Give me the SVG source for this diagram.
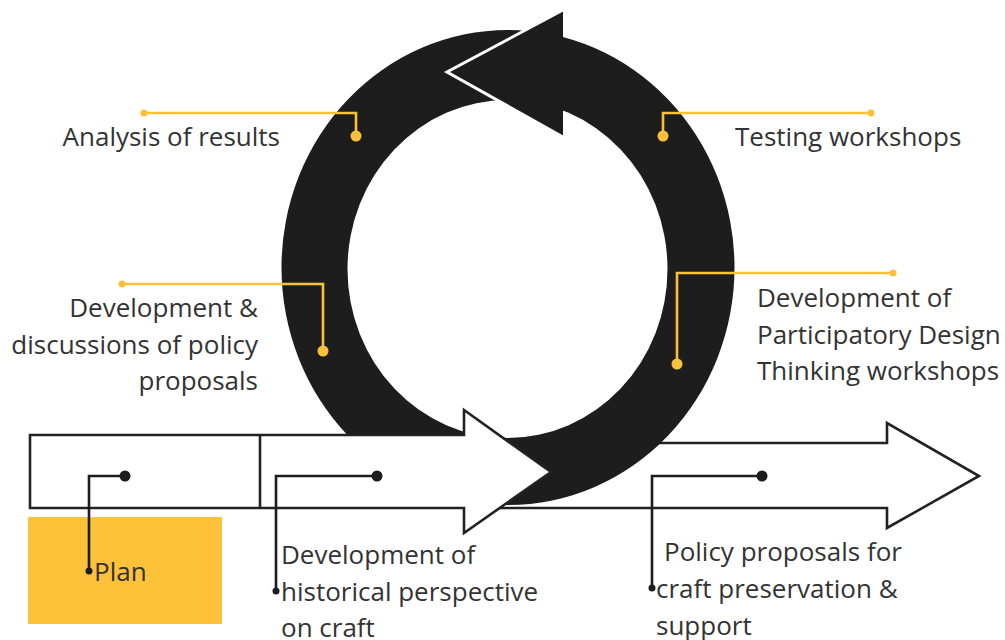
<svg xmlns="http://www.w3.org/2000/svg" width="1005" height="640" viewBox="0 0 1005 640">
  <style>
    .lbl { font-family: "Open Sans", "Noto Sans", "Liberation Sans", sans-serif; font-size: 26px; fill: #333333; }
    .end { text-anchor: end; }
    .arrow { fill: #ffffff; stroke: #222222; stroke-width: 2.6; stroke-linejoin: miter; }
    .cycle { fill: #1d1d1d; }
    .lead-y { fill: none; stroke: #f9c13a; stroke-width: 2.6; }
    .dot-y { fill: #f9c13a; }
    .lead-k { fill: none; stroke: #1d1d1d; stroke-width: 2.6; }
    .dot-k { fill: #1d1d1d; }
  </style>

  <rect width="1005" height="640" fill="#ffffff"/>

  <!-- long arrow behind the cycle -->
  <g id="arrow-outcome">
    <path class="arrow" d="M480,443 H887 V423 L979,476 L887,528 V508 H480 Z"/>
  </g>

  <!-- iterative cycle ring with its arrowhead -->
  <g id="cycle">
    <path class="cycle" fill-rule="evenodd" d="M281.5,267.5 a226.5,237.5 0 1,0 453,0 a226.5,237.5 0 1,0 -453,0 Z M347.5,269 a160,169 0 1,0 320,0 a160,169 0 1,0 -320,0 Z"/>
    <path class="cycle" d="M563,10 L447,72 L563,137 Z"/>
    <polyline points="563,10 447,72 563,137" fill="none" stroke="#ffffff" stroke-width="3" stroke-linejoin="miter"/>
  </g>

  <!-- front arrow: plan box + development arrow -->
  <g id="arrow-start">
    <path class="arrow" d="M30,435 H464 V410 L551,472 L464,533 V508 H30 Z"/>
    <line x1="260" y1="435" x2="260" y2="508" stroke="#222222" stroke-width="2.6"/>
  </g>

  <!-- plan highlight -->
  <g id="plan-box">
    <rect x="28" y="517" width="194" height="107" fill="#fdc13a"/>
  </g>

  <!-- leader lines -->
  <g id="connectors">
    <polyline class="lead-y" points="144,113 356,113 356,136"/>
    <circle class="dot-y" cx="144" cy="113" r="3.5"/>
    <circle class="dot-y" cx="356" cy="136" r="5.5"/>

    <polyline class="lead-y" points="871,113 663,113 663,136"/>
    <circle class="dot-y" cx="871" cy="113" r="3.5"/>
    <circle class="dot-y" cx="663" cy="136" r="5.5"/>

    <polyline class="lead-y" points="122,284 323,284 323,351"/>
    <circle class="dot-y" cx="122" cy="284" r="3.5"/>
    <circle class="dot-y" cx="323" cy="351" r="5.5"/>

    <polyline class="lead-y" points="893,273 677,273 677,364"/>
    <circle class="dot-y" cx="893" cy="273" r="3.5"/>
    <circle class="dot-y" cx="677" cy="364" r="5.5"/>

    <polyline class="lead-k" points="125,476 89,476 89,571"/>
    <circle class="dot-k" cx="125" cy="476" r="5.5"/>
    <circle class="dot-k" cx="89" cy="571" r="3.5"/>

    <polyline class="lead-k" points="377,476 276,476 276,591"/>
    <circle class="dot-k" cx="377" cy="476" r="5.5"/>
    <circle class="dot-k" cx="276" cy="591" r="3.5"/>

    <polyline class="lead-k" points="762,476 652,476 652,588"/>
    <circle class="dot-k" cx="762" cy="476" r="5.5"/>
    <circle class="dot-k" cx="652" cy="588" r="3.5"/>
  </g>

  <!-- labels -->
  <g id="label-analysis">
    <text class="lbl end" x="280" y="146">Analysis of results</text>
  </g>
  <g id="label-testing">
    <text class="lbl" x="735" y="146">Testing workshops</text>
  </g>
  <g id="label-policy-dev">
    <text class="lbl end" x="258" y="317">Development &amp;</text>
    <text class="lbl end" x="258" y="354">discussions of policy</text>
    <text class="lbl end" x="258" y="390">proposals</text>
  </g>
  <g id="label-pd-workshops">
    <text class="lbl" x="757" y="307">Development of</text>
    <text class="lbl" x="757" y="344">Participatory Design</text>
    <text class="lbl" x="757" y="380">Thinking workshops</text>
  </g>
  <g id="label-plan">
    <text class="lbl" x="94" y="581">Plan</text>
  </g>
  <g id="label-history">
    <text class="lbl" x="281" y="564">Development of</text>
    <text class="lbl" x="281" y="601">historical perspective</text>
    <text class="lbl" x="281" y="637">on craft</text>
  </g>
  <g id="label-outcome">
    <text class="lbl" x="664" y="561">Policy proposals for</text>
    <text class="lbl" x="656" y="598">craft preservation &amp;</text>
    <text class="lbl" x="656" y="635">support</text>
  </g>
</svg>
